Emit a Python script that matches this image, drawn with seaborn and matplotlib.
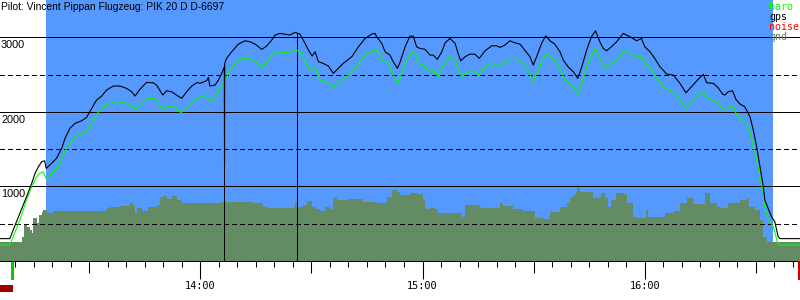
import numpy as np
import pandas as pd
import matplotlib
matplotlib.use("Agg")
import matplotlib.pyplot as plt
import seaborn as sns
from matplotlib.patches import Rectangle
from matplotlib.ticker import FixedLocator, NullFormatter

# ---------------- data (time = minutes after 13:00, altitude in m) ----------------
pilot_title = "Pilot: Vincent Pippan Flugzeug: PIK 20 D D-6697"
legend_names = ["baro", "gps", "noise", "gnd"]

gps_t = [5.9, 8.6, 9.5, 11.3, 13.1, 14.5, 15.4, 16.3, 17.2, 18.0,
         18.4, 19.4, 21.2, 22.6, 23.5, 24.8, 26.2, 28.0, 29.3, 30.7,
         32.0, 33.4, 34.7, 36.5, 38.3, 40.1, 41.5, 42.4, 43.7, 45.5,
         47.3, 48.2, 49.9, 50.9, 52.3, 53.6, 55.0, 56.3, 57.7, 59.2,
         59.9, 61.7, 62.2, 62.6, 64.0, 64.9, 65.8, 66.5, 66.55, 66.6,
         67.1, 68.5, 70.3, 72.1, 73.4, 74.8, 76.6, 77.9, 79.3, 80.2,
         81.5, 84.2, 85.6, 86.9, 88.3, 89.2, 90.2, 91.0, 91.9, 93.2,
         94.6, 95.9, 96.8, 98.6, 100.9, 102.7, 104.5, 106.3, 107.2, 107.6,
         109.0, 109.9, 111.2, 112.1, 113.2, 113.9, 115.3, 116.6, 117.5, 118.4,
         119.3, 120.7, 122.0, 122.9, 124.0, 125.2, 126.1, 127.4, 128.8, 129.6,
         130.3, 131.5, 132.8, 134.2, 135.3, 136.9, 138.7, 140.0, 140.9, 142.2,
         143.6, 144.9, 146.3, 147.6, 149.0, 149.9, 150.8, 152.2, 153.3, 154.4,
         155.7, 157.1, 158.0, 159.3, 160.7, 161.9, 163.0, 164.3, 165.6, 166.7,
         167.9, 168.8, 169.7, 171.0, 172.4, 174.2, 176.0, 177.8, 179.1, 180.0,
         181.4, 182.7, 184.1, 185.9, 187.7, 189.5, 191.1, 192.6, 194.4, 195.8,
         196.7, 198.5, 199.8, 201.0, 201.6, 202.5, 203.7, 204.6, 205.7, 207.0,
         208.4, 209.3, 210.2, 211.1, 212.0, 212.4, 213.3, 214.2, 215.1, 216.0,
         216.5, 221.9]
gps_alt = [300, 300, 416, 639, 862, 1042, 1176, 1264, 1331, 1345,
           1243, 1287, 1377, 1511, 1645, 1779, 1846, 1881, 1926, 2047,
           2158, 2212, 2292, 2346, 2346, 2315, 2269, 2212, 2302, 2395,
           2390, 2359, 2225, 2283, 2269, 2225, 2181, 2269, 2346, 2395,
           2382, 2417, 2462, 2346, 2359, 2426, 2516, 2605, 1310, 2650,
           2717, 2806, 2909, 2953, 2940, 2909, 2838, 2882, 2963, 3030,
           3052, 3030, 3066, 3043, 2918, 2828, 2748, 2806, 2672, 2650,
           2614, 2516, 2560, 2650, 2739, 2873, 2985, 3043, 3052, 3007,
           2918, 2806, 2761, 2672, 2583, 2661, 2873, 3016, 3016, 2873,
           2851, 2838, 2761, 2761, 2704, 2806, 2926, 2985, 2918, 2784,
           2685, 2739, 2775, 2771, 2717, 2819, 2886, 2886, 2865, 2895,
           2953, 2926, 2909, 2828, 2739, 2627, 2739, 2926, 3020, 2953,
           2909, 2806, 2694, 2605, 2538, 2449, 2605, 2828, 3007, 3087,
           2936, 2851, 2819, 2873, 2940, 3052, 3007, 2953, 2985, 2873,
           2806, 2717, 2605, 2507, 2493, 2382, 2256, 2337, 2436, 2503,
           2390, 2382, 2323, 2239, 2225, 2269, 2283, 2168, 2105, 2068,
           1934, 1756, 1532, 1264, 996, 818, 706, 594, 527, 326,
           300, 300]

baro_t = [5.9, 8.6, 9.5, 11.3, 13.1, 14.5, 15.8, 16.7, 17.6, 18.3,
          19.4, 20.8, 21.7, 23.0, 24.4, 26.2, 28.4, 29.5, 31.1, 32.9,
          34.7, 37.0, 39.2, 41.0, 42.7, 44.2, 46.0, 47.8, 49.9, 51.4,
          53.2, 54.8, 56.3, 58.1, 59.5, 61.7, 62.6, 64.0, 65.3, 66.7,
          68.0, 69.8, 71.6, 73.4, 74.8, 76.6, 77.9, 79.3, 80.6, 83.3,
          86.0, 87.4, 88.3, 89.6, 91.0, 92.3, 94.1, 95.5, 95.9, 97.7,
          100.0, 102.2, 104.0, 106.3, 107.4, 108.5, 109.4, 110.7, 112.1, 113.4,
          113.9, 115.3, 117.1, 118.0, 118.9, 120.2, 122.0, 122.9, 124.2, 125.6,
          127.4, 128.8, 129.6, 130.6, 131.9, 133.7, 135.3, 136.9, 138.7, 140.4,
          141.8, 143.6, 145.4, 146.8, 148.1, 149.0, 149.7, 150.8, 152.2, 153.3,
          154.8, 156.2, 157.5, 158.4, 159.8, 160.9, 162.0, 163.0, 164.3, 165.6,
          166.7, 167.9, 169.2, 171.0, 172.4, 174.4, 176.0, 177.8, 179.1, 180.0,
          181.4, 182.3, 183.6, 185.4, 187.2, 189.0, 191.1, 192.6, 194.4, 195.8,
          196.7, 198.5, 199.8, 201.0, 201.9, 203.0, 203.9, 204.8, 206.1, 207.5,
          208.4, 209.3, 210.2, 211.1, 212.0, 212.4, 213.3, 214.7, 216.0, 221.9]
baro_alt = [214, 214, 326, 550, 818, 996, 1130, 1176, 1197, 1109,
            1153, 1220, 1264, 1421, 1555, 1666, 1712, 1756, 1890, 2024,
            2091, 2145, 2122, 2091, 2034, 2135, 2189, 2172, 2034, 2078,
            2060, 1988, 2055, 2145, 2189, 2225, 2135, 2181, 2315, 2426,
            2560, 2672, 2717, 2708, 2672, 2605, 2658, 2761, 2806, 2792,
            2828, 2784, 2672, 2560, 2605, 2426, 2404, 2359, 2315, 2404,
            2493, 2605, 2739, 2819, 2838, 2761, 2672, 2672, 2493, 2382,
            2457, 2650, 2798, 2784, 2650, 2627, 2538, 2560, 2471, 2627,
            2748, 2704, 2560, 2471, 2524, 2551, 2493, 2605, 2658, 2614,
            2650, 2704, 2704, 2672, 2583, 2516, 2404, 2516, 2672, 2775,
            2731, 2672, 2538, 2426, 2382, 2315, 2239, 2382, 2605, 2761,
            2851, 2708, 2583, 2650, 2694, 2819, 2775, 2731, 2748, 2650,
            2605, 2516, 2426, 2315, 2283, 2202, 2047, 2122, 2225, 2283,
            2194, 2149, 2114, 2047, 2024, 2068, 2068, 1957, 1913, 1846,
            1733, 1532, 1354, 1130, 908, 728, 572, 460, 214, 214]

gnd_t = [5.9, 11.3, 11.8, 12.4, 13.1, 14.0, 14.5, 14.9, 15.8, 16.6,
         17.2, 17.6, 18.5, 20.3, 33.8, 34.7, 35.6, 38.3, 41.0, 41.9,
         42.4, 42.8, 44.2, 46.0, 48.2, 49.1, 50.0, 50.9, 52.3, 53.6,
         55.0, 57.2, 61.7, 65.3, 68.9, 74.3, 77.0, 77.9, 83.3, 85.6,
         86.0, 87.8, 88.7, 90.1, 91.0, 92.3, 93.7, 95.0, 95.9, 96.8,
         99.5, 104.0, 107.6, 109.4, 110.3, 111.7, 113.0, 113.9, 116.6, 118.9,
         120.2, 120.7, 122.0, 123.4, 124.3, 126.9, 129.6, 130.6, 131.5, 135.5,
         135.9, 140.9, 141.8, 144.5, 147.2, 149.9, 150.4, 152.6, 154.4, 157.1,
         158.9, 159.8, 160.7, 161.3, 161.6, 162.0, 162.5, 165.2, 166.1, 167.9,
         168.3, 169.2, 170.1, 171.0, 172.2, 174.2, 175.1, 176.0, 176.9, 177.8,
         180.0, 180.3, 180.9, 183.2, 185.4, 187.7, 189.5, 191.3, 193.1, 195.8,
         196.2, 197.6, 199.4, 200.7, 202.5, 205.2, 205.7, 207.5, 208.2, 209.7,
         211.1, 212.0, 212.9, 221.9]
gnd_alt = [259, 259, 326, 483, 460, 416, 371, 572, 513, 617,
           661, 684, 639, 674, 674, 706, 728, 737, 773, 751,
           647, 714, 674, 728, 751, 862, 871, 827, 871, 818,
           782, 782, 773, 787, 791, 773, 728, 706, 714, 795,
           728, 751, 808, 728, 693, 670, 728, 693, 840, 818,
           827, 795, 773, 773, 862, 952, 929, 885, 907, 898,
           827, 693, 714, 693, 647, 639, 639, 594, 751, 728,
           706, 773, 737, 693, 674, 674, 572, 559, 661, 728,
           773, 840, 885, 929, 1032, 975, 921, 921, 840, 854,
           907, 840, 728, 818, 907, 898, 773, 773, 594, 572,
           572, 684, 594, 594, 647, 674, 773, 840, 764, 764,
           916, 773, 728, 706, 773, 773, 818, 840, 728, 684,
           550, 326, 259, 259]

flight_span = [18.4, 214.6]     # shaded (blue) part of the record
event_t = [66.5, 86.2]          # vertical event markers
takeoff_t = 9.3
grid_solid = [1000, 2000, 3000]
grid_dashed = [500, 1500, 2500]
alt_labels = [1000, 2000, 3000]
hour_ticks = [60, 120, 180]
hour_labels = ["14:00", "15:00", "16:00"]
half_hour_ticks = [30, 90, 150, 210]
five_min_ticks = list(range(10, 222, 5))
x_range = [5.94, 221.9]
y_range = [0, 3500]

# ---------------- style ----------------
sns.set_theme(style="white")
plt.rcParams["font.family"] = ["Liberation Sans", "DejaVu Sans"]
plt.rcParams["lines.scale_dashes"] = False
plt.rcParams["path.simplify"] = False

BLUE = "#5599ff"
GND = "#648c64"
GREEN = "#00ff00"
MONO = ["DejaVu Sans Mono"]
LW = 0.6
CURVE_LW = 0.8

fig = plt.figure(figsize=(8, 3), dpi=100)
fig.patch.set_facecolor("white")
ax = fig.add_axes([0, 39 / 300, 1, 261 / 300])
ax.set_facecolor("white")

ax.axvspan(*flight_span, color=BLUE, lw=0, zorder=0)
ax.fill_between(gnd_t, 0, gnd_alt, step="post", color=GND, lw=0, zorder=1,
                antialiased=False)

for v in grid_solid:
    ax.axhline(v, color="black", lw=LW, zorder=2, antialiased=False)
for v in grid_dashed:
    ax.axhline(v, color="black", lw=LW, ls=(0, (2.9, 2.2)), zorder=2,
               antialiased=False)

event_tops = np.interp(event_t, gps_t, gps_alt)
ax.vlines(event_t, 0, event_tops, color="black", lw=LW, zorder=3,
          antialiased=False)

df_baro = pd.DataFrame({"t": baro_t, "alt": baro_alt})
df_gps = pd.DataFrame({"t": gps_t, "alt": gps_alt})
sns.lineplot(data=df_baro, x="t", y="alt", color=GREEN, linewidth=CURVE_LW,
             estimator=None, sort=False, legend=False, ax=ax, zorder=4)
sns.lineplot(data=df_gps, x="t", y="alt", color="black", linewidth=CURVE_LW,
             estimator=None, sort=False, legend=False, ax=ax, zorder=5)

ax.set_xlim(*x_range)
ax.set_ylim(*y_range)
ax.set_xlabel("")
ax.set_ylabel("")
ax.set_yticks([])
for s in ["left", "right", "top"]:
    ax.spines[s].set_visible(False)
ax.spines["bottom"].set_color("black")
ax.spines["bottom"].set_linewidth(LW)
ax.spines["bottom"].set_zorder(6)
ax.spines["bottom"].set_antialiased(False)

# x ticks: 5 min (short), half hour (medium), hour (long + label)
ax.xaxis.set_major_locator(FixedLocator(half_hour_ticks + hour_ticks))
ax.xaxis.set_minor_locator(FixedLocator(five_min_ticks))
ax.xaxis.set_major_formatter(NullFormatter())
ax.tick_params(axis="x", which="major", bottom=True, direction="out",
               length=8.6, width=0.75, color="black")
ax.tick_params(axis="x", which="minor", bottom=True, direction="out",
               length=4.3, width=0.75, color="black")

sec = ax.secondary_xaxis("bottom")
sec.set_xticks(hour_ticks, labels=hour_labels)
sec.tick_params(axis="x", direction="out", length=13, width=0.75, color="black",
                pad=1.5, labelsize=7.4, labelcolor="black")
for lab in sec.get_xticklabels():
    lab.set_family(MONO)
sec.spines["bottom"].set_visible(False)

# altitude labels below the solid grid lines
for v in alt_labels:
    ax.annotate(str(v), xy=(0, v), xycoords=ax.get_yaxis_transform(),
                xytext=(1, -11), textcoords="offset pixels",
                ha="left", va="baseline", fontsize=7.8, color="black", zorder=7)

# title
fig.text(1 / 800, 1 - 10.3 / 300, pilot_title, ha="left", va="baseline",
         fontsize=7.4, color="black")

# legend text, top-right
legend_colors = [GREEN, "black", "#ff0000", GND]
for i, (name, col) in enumerate(zip(legend_names, legend_colors)):
    fig.text(769 / 800, 1 - (10.3 + 10 * i) / 300, name, ha="left", va="baseline",
             fontsize=7.2, color=col, family=MONO)

# takeoff marker and small red indicators below the axis
ax.add_patch(Rectangle((takeoff_t - 0.4, -19 / 261), 0.8, 18 / 261,
                       transform=ax.get_xaxis_transform(), color="#00cc00",
                       clip_on=False, lw=0))
fig.add_artist(Rectangle((0, 8 / 300), 13 / 800, 7 / 300,
                         transform=fig.transFigure, color="#a00000", lw=0))
fig.add_artist(Rectangle((797.5 / 800, 20 / 300), 2.5 / 800, 19 / 300,
                         transform=fig.transFigure, color="#cc0000", lw=0))

fig.savefig("out.png", dpi=100)
